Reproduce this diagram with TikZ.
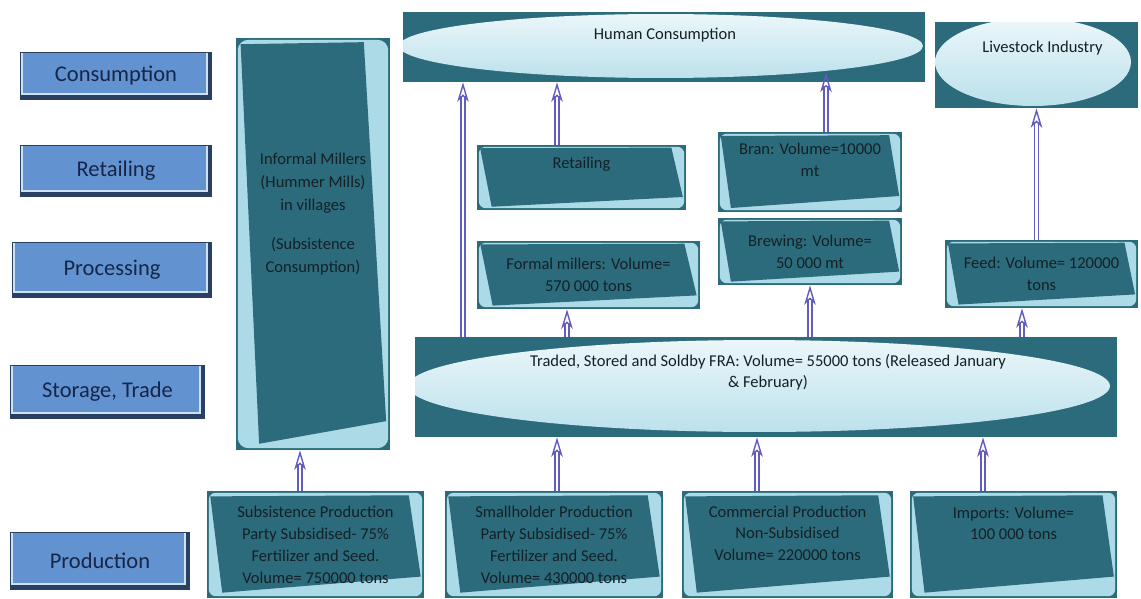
\documentclass[tikz,border=0pt]{standalone}
\usepackage{fontspec}
\setmainfont{Carlito}
\usetikzlibrary{calc,arrows.meta}

\definecolor{tealdk}{RGB}{44,107,124}
\definecolor{tealpale}{RGB}{172,219,231}
\definecolor{tealink}{RGB}{20,32,38}
\definecolor{ovaltop}{RGB}{236,247,250}
\definecolor{ovalbot}{RGB}{186,224,235}
\definecolor{stagenavy}{RGB}{42,64,98}
\definecolor{stagepale}{RGB}{205,226,245}
\definecolor{stageblue}{RGB}{98,146,208}
\definecolor{stageink}{RGB}{22,38,72}
\definecolor{flowc}{RGB}{98,92,192}

\tikzset{
  stage/.style={fill=stagenavy, text=stageink, font=\fontsize{12.8}{15}\selectfont, inner sep=0pt,
    path picture={
      \fill[stagepale] let \p1=(path picture bounding box.south west), \p2=(path picture bounding box.north east) in
        (\x1+0.6pt,\y1+2.8pt) rectangle (\x2-2.3pt,\y2-0.3pt);
      \fill[stageblue] let \p1=(path picture bounding box.south west), \p2=(path picture bounding box.north east) in
        (\x1+1.7pt,\y1+3.9pt) rectangle (\x2-3.4pt,\y2-0.6pt);
    }},
  tealbase/.style={fill=tealdk, text=tealink, align=center, inner sep=2pt, font=\fontsize{9.4}{12.5}\selectfont},
  tealbox/.style={tealbase,
    path picture={
      \fill[tealpale, rounded corners=4pt] let \p1=(path picture bounding box.south west), \p2=(path picture bounding box.north east) in
        (\x1+1pt,\y1+1pt) rectangle (\x2-1pt,\y2-1pt);
      \fill[tealdk] let \p1=(path picture bounding box.south west), \p2=(path picture bounding box.north east) in
        ({\x1+0.015*(\x2-\x1)},{\y2-0.05*(\y2-\y1)}) -- ({\x1+0.93*(\x2-\x1)},{\y2-0.04*(\y2-\y1)})
        -- ({\x1+0.985*(\x2-\x1)},{\y1+0.2*(\y2-\y1)}) -- ({\x1+0.07*(\x2-\x1)},{\y1+0.05*(\y2-\y1)}) -- cycle;
    }},
  millbox/.style={tealbase,
    path picture={
      \fill[tealpale, rounded corners=6pt] let \p1=(path picture bounding box.south west), \p2=(path picture bounding box.north east) in
        (\x1+1pt,\y1+1pt) rectangle (\x2-1pt,\y2-1pt);
      \fill[tealdk] let \p1=(path picture bounding box.south west), \p2=(path picture bounding box.north east) in
        ({\x1+0.03*(\x2-\x1)},{\y2-0.015*(\y2-\y1)}) -- ({\x1+0.83*(\x2-\x1)},{\y2-0.01*(\y2-\y1)})
        -- ({\x1+0.975*(\x2-\x1)},{\y1+0.07*(\y2-\y1)}) -- ({\x1+0.15*(\x2-\x1)},{\y1+0.015*(\y2-\y1)}) -- cycle;
    }},
  ovalbox/.style n args={4}{fill=tealdk,
    path picture={
      \shade[top color=ovaltop, bottom color=ovalbot] ([shift={(#1,#2)}]path picture bounding box.center) ellipse [x radius=#3, y radius=#4];
    }},
  ovaltext/.style={text=tealink, align=center, font=\fontsize{9.4}{12}\selectfont},
  flow/.style={draw=flowc, line width=0.8pt, double=white, double distance=1.5pt,
    -{Stealth[open, length=11pt, width=6.5pt, inset=3pt]}},
}

\begin{document}
\begin{tikzpicture}[x=0.02cm, y=-0.02cm]
\useasboundingbox (0,0) rectangle (1141,598);

% stages down the left side
\node[stage, minimum width=3.84cm, minimum height=0.96cm] (sconsum) at (116,76) {Consumption};
\node[stage, minimum width=3.84cm, minimum height=1.04cm] (sretail) at (116,171) {Retailing};
\node[stage, minimum width=4cm, minimum height=1.12cm] (sproc) at (112,270) {Processing};
\node[stage, minimum width=3.9cm, minimum height=1.08cm] (sstore) at (107.5,392) {Storage, Trade};
\node[stage, minimum width=3.6cm, minimum height=1.16cm] (sprod) at (100,561) {Production};

% consumers
\node[ovalbox={-3}{-1}{5.24cm}{0.64cm}, minimum width=10.44cm, minimum height=1.4cm] (hc) at (664,47) {};
\node[ovaltext] (hctext) at ([shift={(1,-12)}]hc.center) {Human Consumption};

\node[ovalbox={-3.5}{-3}{1.96cm}{0.88cm}, minimum width=4.06cm, minimum height=1.72cm] (live) at (1036.5,65) {};
\node[ovaltext] (livetext) at ([shift={(6,-17)}]live.center) {Livestock Industry};

% informal milling column
\node[millbox, minimum width=3.08cm, minimum height=8.24cm, text depth=1.25cm, font=\fontsize{9.4}{13}\selectfont] (mill) at (313,244)
  {Informal Millers\\(Hummer Mills)\\in villages\\[9.6pt](Subsistence\\Consumption)};

% retailing and processing
\node[tealbox, minimum width=4.18cm, minimum height=1.3cm, text depth=0.6cm] (retail) at (581.5,177.5) {Retailing};
\node[tealbox, minimum width=4.46cm, minimum height=1.36cm] (formal) at (588.5,275) {Formal millers: Volume=\\570 000 tons};
\node[tealbox, minimum width=3.68cm, minimum height=1.6cm, text depth=0.5cm] (bran) at (810,172) {Bran: Volume=10000\\mt};
\node[tealbox, minimum width=3.68cm, minimum height=1.34cm] (brew) at (810,251.5) {Brewing: Volume=\\50 000 mt};
\node[tealbox, minimum width=3.86cm, minimum height=1.36cm] (feed) at (1041.5,274) {Feed: Volume= 120000\\tons};

% storage and trade
\node[ovalbox={-7}{-1}{7.02cm}{0.92cm}, minimum width=14.04cm, minimum height=2cm] (trade) at (766,387) {};
\node[ovaltext] (tradetext) at ([shift={(2,-15)}]trade.center)
  {Traded, Stored and Soldby FRA: Volume= 55000 tons (Released January\\\& February)};

% production
\node[tealbox, minimum width=4.34cm, minimum height=2.14cm] (subsist) at (315.5,544.5)
  {Subsistence Production\\Party Subsidised- 75\%\\Fertilizer and Seed.\\Volume= 750000 tons};
\node[tealbox, minimum width=4.36cm, minimum height=2.14cm] (small) at (554,544.5)
  {Smallholder Production\\Party Subsidised- 75\%\\Fertilizer and Seed.\\Volume= 430000 tons};
\node[tealbox, minimum width=4.22cm, minimum height=2.14cm, text depth=0.45cm] (comm) at (787.5,544.5)
  {Commercial Production\\Non-Subsidised\\Volume= 220000 tons};
\node[tealbox, minimum width=4.14cm, minimum height=2.14cm, text depth=0.85cm] (imports) at (1013.5,544.5)
  {Imports: Volume=\\100 000 tons};

% flows
\coordinate (f1) at ([shift={(-15.5,0)}]subsist.north);
\draw[flow] (f1) -- (f1 |- mill.south);
\coordinate (f2) at ([shift={(3,0)}]small.north);
\draw[flow] (f2) -- (f2 |- trade.south);
\coordinate (f3) at ([shift={(-30.5,0)}]comm.north);
\draw[flow] (f3) -- (f3 |- trade.south);
\coordinate (f4) at ([shift={(-30.5,0)}]imports.north);
\draw[flow] (f4) -- (f4 |- trade.south);

\coordinate (f5) at ([shift={(-303,0)}]trade.north);
\draw[flow] (f5) -- (f5 |- hc.south);
\coordinate (f6) at ([shift={(-199,0)}]trade.north);
\draw[flow] (f6) -- (f6 |- formal.south);
\coordinate (f7) at ([shift={(-24.5,0)}]retail.north);
\draw[flow] (f7) -- (f7 |- hc.south);
\draw[flow] (brew.south |- trade.north) -- (brew.south);
\coordinate (f9) at ([shift={(16,0)}]bran.north);
\draw[flow, shorten >=-5.5pt] (f9) -- (f9 |- hc.south);
\coordinate (f10) at ([shift={(256,0)}]trade.north);
\draw[flow] (f10) -- (f10 |- feed.south);
\draw[flow] (live.south |- feed.north) -- (live.south);

\end{tikzpicture}
\end{document}
